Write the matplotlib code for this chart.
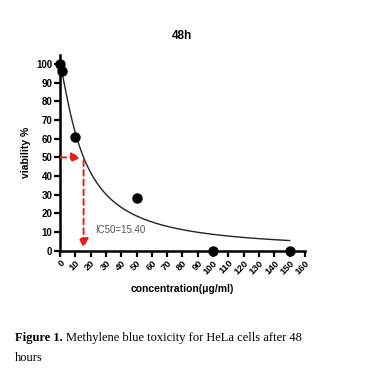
import numpy as np
import matplotlib
matplotlib.use("Agg")
import matplotlib.pyplot as plt

# Data
conc = [0, 1, 10, 50, 100, 150]
viability = [100, 96.5, 61, 28.5, 0, 0]
ic50 = 15.40
hill = 1.25
xticks = list(range(0, 161, 10))
yticks = list(range(0, 101, 10))
title = "48h"
xlabel = "concentration(μg/ml)"
ylabel = "viability %"
ic50_label = "IC50=15.40"

fig = plt.figure(figsize=(3.66, 3.80), dpi=100)
ax = fig.add_axes([0.164, 0.340, 0.669, 0.516])

xs = np.linspace(0, 150, 400)
fit = 100 / (1 + (xs / ic50) ** hill)
ax.plot(xs, fit, color="#222222", lw=1.0, zorder=2)
ax.scatter(conc, viability, s=42, color="black", zorder=4, clip_on=False)

red = "#e3211c"
ax.annotate("", xy=(ic50, 50), xytext=(-1.5, 50),
            arrowprops=dict(arrowstyle="-|>,head_length=0.55,head_width=0.28", color=red, lw=1.4, ls=(0, (3, 2))),
            annotation_clip=False, zorder=3)
ax.annotate("", xy=(ic50, 0), xytext=(ic50, 50),
            arrowprops=dict(arrowstyle="-|>,head_length=0.55,head_width=0.28", color=red, lw=1.4, ls=(0, (3, 2))),
            annotation_clip=False, zorder=3)

ax.text(23, 11, ic50_label, color="#555555", fontsize=7, family="Liberation Sans", va="center")

ax.set_xlim(0, 160)
ax.set_ylim(0, 105)
ax.set_xticks(xticks)
ax.set_yticks(yticks)
ax.set_xticklabels([str(t) for t in xticks], rotation=45, ha="right", rotation_mode="anchor",
                   fontsize=6.8, fontweight="bold", family="Liberation Sans")
ax.set_yticklabels([str(t) for t in yticks], fontsize=7, fontweight="bold", family="Liberation Sans")
for s in ["top", "right"]:
    ax.spines[s].set_visible(False)
for s in ["left", "bottom"]:
    ax.spines[s].set_linewidth(1.8)
ax.tick_params(axis="both", direction="out", width=1.6, length=4, pad=1.5)

ax.set_title(title, fontsize=8.5, fontweight="bold", family="Liberation Sans", pad=11)
ax.set_xlabel(xlabel, fontsize=7.5, fontweight="bold", family="Liberation Sans", labelpad=6)
ax.set_ylabel(ylabel, fontsize=7.5, fontweight="bold", family="Liberation Sans", labelpad=4)

cap_y1 = 0.103
cap_x = 0.041
t1 = fig.text(cap_x, cap_y1, "Figure 1.", fontsize=9, fontweight="bold", family="Liberation Serif")
fig.canvas.draw()
bb = t1.get_window_extent()
x2 = (bb.x1 + 3) / fig.bbox.width
fig.text(x2, cap_y1, "Methylene blue toxicity for HeLa cells after 48", fontsize=9, family="Liberation Serif")
fig.text(cap_x, cap_y1 - 0.052, "hours", fontsize=9, family="Liberation Serif")

fig.savefig("out.png", dpi=100)
